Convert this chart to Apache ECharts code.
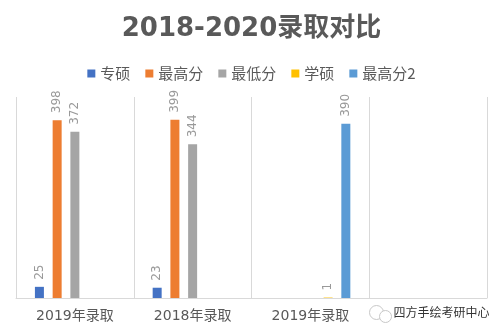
<!DOCTYPE html>
<html>
<head>
<meta charset="utf-8">
<script src="https://cdn.jsdelivr.net/npm/echarts@6/dist/echarts.min.js"></script>
<style>
  html, body { margin: 0; padding: 0; background: #fff; }
  #chart { width: 503px; height: 334px; }
</style>
</head>
<body>
<div id="chart"></div>
<script>
// Admission comparison, grouped by year
const categories = ['2019年录取', '2018年录取', '2019年录取', ''];
const seriesNames = ['专硕', '最高分', '最低分', '学硕', '最高分2'];
const zhuanshuo = [25, 23, null, null];
const zuigaofen = [398, 399, null, null];
const zuidifen = [372, 344, null, null];
const xueshuo = [null, null, 1, null];
const zuigaofen2 = [null, null, 390, null];

const values = [zhuanshuo, zuigaofen, zuidifen, xueshuo, zuigaofen2];
const colors = ['#4472C4', '#ED7D31', '#A5A5A5', '#FFC000', '#5B9BD5'];
const font = '"Noto Sans CJK SC", "Noto Sans", sans-serif';
const wideFont = '"DejaVu Sans", "Noto Sans CJK SC", sans-serif';

const chart = echarts.init(document.getElementById('chart'), null, { renderer: 'canvas' });

chart.setOption({
  animation: false,
  backgroundColor: '#ffffff',
  title: {
    text: '2018-2020录取对比',
    left: 'center',
    top: 11,
    textStyle: { fontFamily: wideFont, fontSize: 26, fontWeight: 'bold', color: '#595959' }
  },
  legend: {
    data: seriesNames,
    top: 61,
    left: 'center',
    icon: 'rect',
    itemWidth: 8,
    itemHeight: 8,
    itemGap: 15,
    textStyle: { fontFamily: font, fontSize: 15, color: '#595959' }
  },
  grid: { left: 16, right: 16, top: 97, bottom: 36, containLabel: false },
  xAxis: {
    type: 'category',
    data: categories,
    axisLine: { lineStyle: { color: '#d9d9d9' } },
    axisTick: { show: false },
    splitLine: { show: true, interval: 0, lineStyle: { color: '#d9d9d9' } },
    axisLabel: { interval: 0, margin: 11, fontFamily: wideFont, fontSize: 14, color: '#595959' }
  },
  yAxis: {
    type: 'value',
    min: 0,
    max: 450,
    show: false,
    splitLine: { show: false }
  },
  series: seriesNames.map((name, i) => ({
    name: name,
    type: 'bar',
    data: values[i],
    barWidth: 9,
    barGap: '97%',
    itemStyle: { color: colors[i] },
    label: {
      show: true,
      position: 'top',
      distance: 7,
      rotate: 90,
      align: 'left',
      verticalAlign: 'middle',
      fontFamily: wideFont,
      fontSize: 12,
      color: '#999999'
    }
  })),
  graphic: [
    {
      type: 'group',
      left: 367,
      top: 303,
      children: [
        { type: 'circle', shape: { cx: 9, cy: 8, r: 7 }, style: { fill: 'none', stroke: '#c8c8c8', lineWidth: 1 } },
        { type: 'circle', shape: { cx: 18, cy: 12, r: 6 }, style: { fill: '#fff', stroke: '#c8c8c8', lineWidth: 1 } },
        {
          type: 'text',
          left: 26,
          top: 2,
          style: { text: '四方手绘考研中心', fontFamily: font, fontSize: 12, fill: '#333333' }
        }
      ]
    }
  ]
});
</script>
</body>
</html>
